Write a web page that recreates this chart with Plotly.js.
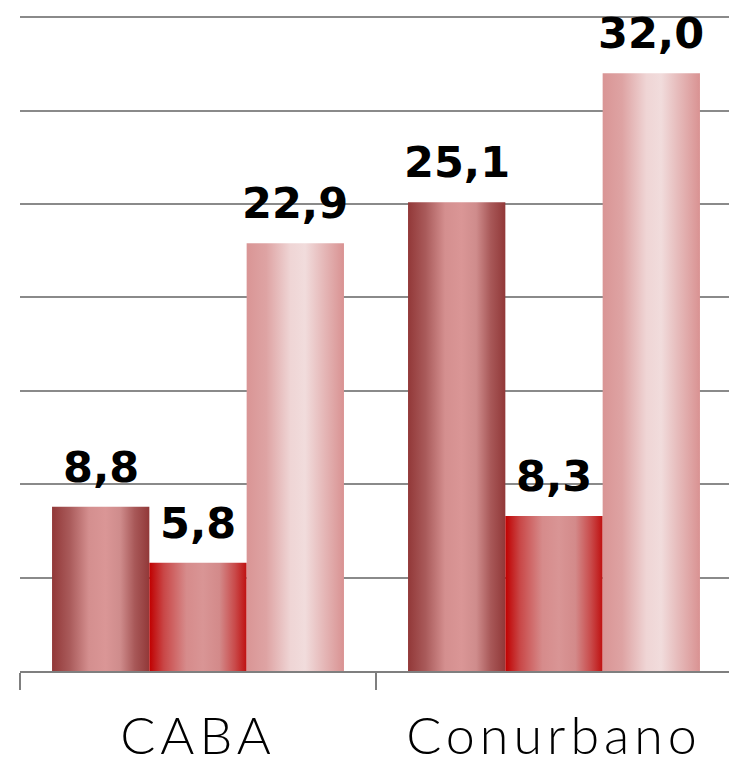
<!DOCTYPE html>
<html>
<head>
<meta charset="utf-8">
<script src="https://cdn.plot.ly/plotly-3.0.1.min.js"></script>
<style>
html,body{margin:0;padding:0;background:#fff;}
#chart{width:729px;height:762px;}
#chart .xtick text{letter-spacing:5px;}
</style>
</head>
<body>
<div id="chart"></div>
<script>
// Data
const categories = ["CABA", "Conurbano"];
const series1 = [8.8, 25.1];
const series2 = [5.8, 8.3];
const series3 = [22.9, 32.0];
const seriesNames = ["Serie 1", "Serie 2", "Serie 3"];

// Gradient definitions (left -> right across each bar)
const gradients = [
  [[0, "#923838"], [0.18, "#a95a5a"], [0.38, "#d48f8f"], [0.55, "#da9696"], [0.7, "#cf8c8c"], [0.85, "#a85858"], [1, "#913838"]],
  [[0, "#c00000"], [0.15, "#c94747"], [0.38, "#d68b8b"], [0.55, "#d99595"], [0.72, "#d38a8a"], [0.88, "#c94a4a"], [1, "#bf1010"]],
  [[0, "#d99595"], [0.2, "#dea3a3"], [0.45, "#efd5d5"], [0.6, "#f1dcdc"], [0.78, "#e6baba"], [1, "#d99292"]]
];
const baseColors = ["#b86a6a", "#cf5a5a", "#e8c2c2"];

const BARGAP = 0.18;
const labelFont = {family: "DejaVu Sans", size: 43, color: "#000", weight: "bold"};

const ys = [series1, series2, series3];
const traces = ys.map((y, i) => ({
  type: "bar",
  x: categories,
  y: y,
  name: seriesNames[i],
  marker: {color: baseColors[i], line: {width: 0}},
  hoverinfo: "skip"
}));

// value labels placed at the centre of each bar of the group
const barW = (1 - BARGAP) / ys.length;
const annotations = [];
ys.forEach((y, k) => {
  y.forEach((v, ci) => {
    annotations.push({
      x: ci + (k - (ys.length - 1) / 2) * barW,
      y: v,
      xref: "x", yref: "y",
      text: v.toFixed(1).replace(".", ","),
      showarrow: false,
      yanchor: "bottom",
      xanchor: "center",
      yshift: 13,
      font: labelFont
    });
  });
});

const layout = {
  width: 729,
  height: 762,
  margin: {l: 20, r: 0, t: 8, b: 91},
  paper_bgcolor: "#fff",
  plot_bgcolor: "#fff",
  showlegend: false,
  barmode: "group",
  bargap: BARGAP,
  bargroupgap: 0,
  annotations: annotations,
  xaxis: {
    type: "category",
    range: [-0.5, 1.4916],
    showline: true,
    linecolor: "#7f7f7f",
    linewidth: 2,
    ticks: "outside",
    tickson: "boundaries",
    ticklen: 17,
    tickwidth: 2,
    tickcolor: "#7f7f7f",
    ticklabelstandoff: 19,
    tickfont: {family: "Lato, 'DejaVu Sans', sans-serif", size: 52, color: "#000", weight: 300},
    showgrid: false,
    zeroline: false
  },
  yaxis: {
    range: [0, 35.5],
    tickvals: [0, 5, 10, 15, 20, 25, 30, 35],
    showgrid: true,
    gridcolor: "#8a8a8a",
    gridwidth: 2,
    showticklabels: false,
    showline: false,
    zeroline: false,
    ticks: ""
  }
};

Plotly.newPlot("chart", traces, layout, {displayModeBar: false, staticPlot: true}).then(applyGradients);

function applyGradients() {
  const svg = document.querySelector("#chart .main-svg");
  const ns = "http://www.w3.org/2000/svg";
  let defs = svg.querySelector("defs");
  if (!defs) { defs = document.createElementNS(ns, "defs"); svg.insertBefore(defs, svg.firstChild); }
  gradients.forEach((stops, i) => {
    const g = document.createElementNS(ns, "linearGradient");
    g.setAttribute("id", "bargrad" + i);
    g.setAttribute("x1", "0"); g.setAttribute("y1", "0");
    g.setAttribute("x2", "1"); g.setAttribute("y2", "0");
    stops.forEach(([o, c]) => {
      const s = document.createElementNS(ns, "stop");
      s.setAttribute("offset", o);
      s.setAttribute("stop-color", c);
      g.appendChild(s);
    });
    defs.appendChild(g);
  });
  const traceGroups = document.querySelectorAll("#chart .barlayer .trace");
  traceGroups.forEach((tg, i) => {
    tg.querySelectorAll(".point path").forEach(p => {
      p.style.fill = "url(#bargrad" + i + ")";
    });
  });
}
</script>
</body>
</html>
